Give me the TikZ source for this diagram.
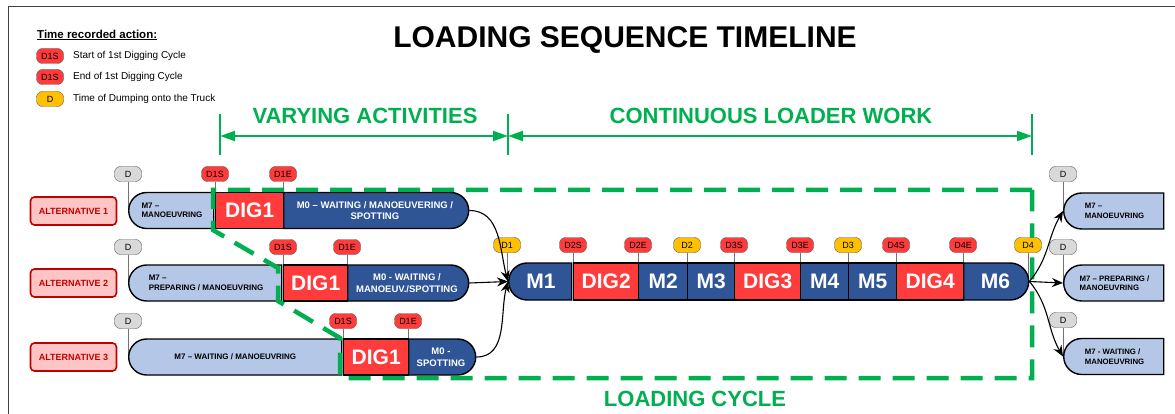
\documentclass[tikz,border=0pt]{standalone}
\usepackage{fontspec}
\setmainfont{Liberation Sans}
\usetikzlibrary{arrows.meta,shapes.misc,backgrounds,positioning}

\definecolor{gr}{HTML}{00B050}
\definecolor{dkblue}{HTML}{2F5597}
\definecolor{ltblue}{HTML}{B4C7E7}
\definecolor{digred}{HTML}{FF3B3B}
\definecolor{altred}{HTML}{C00000}
\definecolor{altpink}{HTML}{FFC4C4}
\definecolor{dumpyel}{HTML}{FFC000}
\definecolor{pingrey}{HTML}{D9D9D9}

\tikzset{
  altbox/.style={rectangle,rounded corners=4pt,draw=altred,fill=altpink,line width=1.6pt,
    minimum width=86pt,minimum height=28pt,text=altred,font=\fontsize{9}{10}\selectfont\bfseries},
  pin/.style={rectangle,rounded corners=6pt,draw=black!65,minimum width=27pt,minimum height=15pt,
    inner sep=1pt,font=\fontsize{9}{10}\selectfont},
  pinD/.style={pin,fill=pingrey},
  pinS/.style={pin,fill=digred},
  pinY/.style={pin,fill=dumpyel},
  seg/.style={rectangle,draw=black,line width=1.4pt,minimum height=36pt,inner sep=1pt,anchor=west},
  wait/.style={seg,fill=ltblue,font=\fontsize{8}{9.5}\selectfont\bfseries,align=left},
  work/.style={seg,fill=dkblue,text=white,font=\fontsize{9.5}{11.5}\selectfont\bfseries,align=center},
  dig/.style={seg,fill=digred,text=white,font=\fontsize{21}{23}\selectfont\bfseries},
  big/.style={work,font=\fontsize{21}{23}\selectfont\bfseries},
  lend/.style={rounded rectangle,rounded rectangle right arc=none},
  rend/.style={rounded rectangle,rounded rectangle left arc=none},
  nextbox/.style={wait,lend,minimum width=102pt,font=\fontsize{7.8}{9.5}\selectfont\bfseries},
  pinline/.style={draw=black!55,line width=0.8pt},
  flow/.style={-{Stealth[length=11pt,width=9pt]},line width=1.1pt},
  dim/.style={{Triangle[length=15pt,width=10pt]}-{Triangle[length=15pt,width=10pt]},draw=gr,fill=gr,line width=2pt},
  tick/.style={draw=gr,line width=2pt},
  loopbox/.style={draw=gr,line width=4.5pt,dash pattern=on 22pt off 12pt,line join=miter},
  head/.style={text=gr,font=\fontsize{22}{24}\selectfont\bfseries},
  keytxt/.style={anchor=west,inner sep=0pt,font=\fontsize{10}{11}\selectfont},
}

\begin{document}
\begin{tikzpicture}[x=1pt,y=-1pt]
\useasboundingbox (0,0) rectangle (1175,414);
\draw[black!75,line width=1pt] (8,414) -- (8,7) -- (1175,7);

% title and key
\node (title) at (625,40) [font=\fontsize{30}{32}\selectfont\bfseries] {LOADING SEQUENCE TIMELINE};
\node (keyhead) at (37,35) [anchor=west,inner sep=0pt,font=\fontsize{11.5}{13}\selectfont\bfseries] {\underline{Time recorded action:}};
\node (key1) at (50,56) [pinS] {D1S};
\node (key1t) at (73,56) [keytxt] {Start of 1st Digging Cycle};
\node (key2) at (50,77) [pinS] {D1S};
\node (key2t) at (73,77) [keytxt] {End of 1st Digging Cycle};
\node (key3) at (50,99) [pinY] {D};
\node (key3t) at (73,99) [keytxt] {Time of Dumping onto the Truck};

% spans
\coordinate (ta) at (220,136);
\coordinate (tb) at (508,136);
\coordinate (tc) at (1032,136);
\draw[tick] ([yshift=22pt]ta) -- ([yshift=-19pt]ta);
\draw[tick] ([yshift=22pt]tb) -- ([yshift=-19pt]tb);
\draw[tick] ([yshift=22pt]tc) -- ([yshift=-19pt]tc);
\draw[dim] (ta) -- (tb);
\draw[dim] (tb) -- (tc);
\node (vary) at (365,116) [head] {VARYING ACTIVITIES};
\node (cont) at (771,116) [head] {CONTINUOUS LOADER WORK};

% alternatives
\node (alt1) at (73.5,211) [altbox] {ALTERNATIVE 1};
\node (alt2) at (73.5,283) [altbox] {ALTERNATIVE 2};
\node (alt3) at (73.5,357) [altbox] {ALTERNATIVE 3};

\node (a1m7) at (128,210.5) [wait,lend,minimum width=87pt] {M7 –\\MANOEUVRING};
\node (a1dig) at (215,210.5) [dig,minimum width=68pt] {DIG1};
\node (a1m0) at (283,210.5) [work,rend,minimum width=187pt] {M0 – WAITING / MANOEUVERING /\\SPOTTING};

\node (a2m7) at (128,283) [wait,lend,minimum width=155pt] {M7 –\\PREPARING / MANOEUVRING};
\node (a2dig) at (283,283) [dig,minimum width=64pt] {DIG1};
\node (a2m0) at (347,283) [work,rend,minimum width=123pt] {M0 - WAITING /\\MANOEUV./SPOTTING};

\node (a3m7) at (128,357) [wait,lend,minimum width=215pt] {M7 – WAITING / MANOEUVRING};
\node (a3dig) at (343,357) [dig,minimum width=65pt] {DIG1};
\node (a3m0) at (408,357) [work,rend,minimum width=69pt] {M0 -\\SPOTTING};

% loading cycle
\node (m1) at (508,281.5) [big,lend,minimum width=65pt,minimum height=37pt] {M1};
\node (dig2) at (573,281.5) [dig,minimum width=65pt,minimum height=37pt] {DIG2};
\node (m2) at (638,281.5) [big,minimum width=49pt,minimum height=37pt] {M2};
\node (m3) at (687,281.5) [big,minimum width=47pt,minimum height=37pt] {M3};
\node (dig3) at (734,281.5) [dig,minimum width=66pt,minimum height=37pt] {DIG3};
\node (m4) at (800,281.5) [big,minimum width=48pt,minimum height=37pt] {M4};
\node (m5) at (848,281.5) [big,minimum width=48pt,minimum height=37pt] {M5};
\node (dig4) at (896,281.5) [dig,minimum width=67pt,minimum height=37pt] {DIG4};
\node (m6) at (963,281.5) [big,rend,minimum width=67pt,minimum height=37pt] {M6};

% next truck
\node (r1) at (1063,211) [nextbox] {M7 –\\MANOEUVRING};
\node (r2) at (1063,283) [nextbox] {M7 – PREPARING /\\MANOEUVRING};
\node (r3) at (1063,356.5) [nextbox] {M7 - WAITING /\\MANOEUVRING};

\draw[loopbox] (1032,190) -- (213,190) -- (213,230) -- (278,268) -- (278,301) -- (340,338)
  -- (340,378) -- (1032,378) -- cycle;
\node (cycle) at (695,399) [head] {LOADING CYCLE};

% time stamps
\node (a1d) at (128,174) [pinD] {D};
\node (a1s) at (215,174) [pinS] {D1S};
\node (a1e) at (283,174) [pinS] {D1E};
\node (a2d) at (128,247) [pinD] {D};
\node (a2s) at (283,247) [pinS] {D1S};
\node (a2e) at (347,247) [pinS] {D1E};
\node (a3d) at (128,321) [pinD] {D};
\node (a3s) at (343,321) [pinS] {D1S};
\node (a3e) at (408,321) [pinS] {D1E};
\node (md1) at (507,245) [pinY] {D1};
\node (md2s) at (573,245) [pinS] {D2S};
\node (md2e) at (638,245) [pinS] {D2E};
\node (md2) at (687,245) [pinY] {D2};
\node (md3s) at (734,245) [pinS] {D3S};
\node (md3e) at (800,245) [pinS] {D3E};
\node (md3) at (848,245) [pinY] {D3};
\node (md4s) at (896,245) [pinS] {D4S};
\node (md4e) at (963,245) [pinS] {D4E};
\node (md4) at (1028,245) [pinY] {D4};
\node (r1d) at (1063,174) [pinD] {D};
\node (r2d) at (1063,247) [pinD] {D};
\node (r3d) at (1063,320) [pinD] {D};

\begin{scope}[on background layer]
\draw[pinline] (a1d) -- (a1d |- a1m7);
\draw[pinline] (a1s) -- (a1s |- a1m7);
\draw[pinline] (a1e) -- (a1e |- a1m7);
\draw[pinline] (a2d) -- (a2d |- a2m7);
\draw[pinline] (a2s) -- (a2s |- a2m7);
\draw[pinline] (a2e) -- (a2e |- a2m7);
\draw[pinline] (a3d) -- (a3d |- a3m7);
\draw[pinline] (a3s) -- (a3s |- a3m7);
\draw[pinline] (a3e) -- (a3e |- a3m7);
\draw[pinline] (md1) -- (md1 |- m1);
\draw[pinline] (md2s) -- (md2s |- m1);
\draw[pinline] (md2e) -- (md2e |- m1);
\draw[pinline] (md2) -- (md2 |- m1);
\draw[pinline] (md3s) -- (md3s |- m1);
\draw[pinline] (md3e) -- (md3e |- m1);
\draw[pinline] (md3) -- (md3 |- m1);
\draw[pinline] (md4s) -- (md4s |- m1);
\draw[pinline] (md4e) -- (md4e |- m1);
\draw[pinline] (md4) -- (md4 |- m1);
\draw[pinline] (r1d) -- (r1d |- r1);
\draw[pinline] (r2d) -- (r2d |- r2);
\draw[pinline] (r3d) -- (r3d |- r3);
\end{scope}

% flows
\draw[flow] (a1m0.east) to[out=0,in=105] (m1.west);
\draw[flow] (a2m0.east) -- (m1.west);
\draw[flow] (a3m0.east) to[out=0,in=-105] (m1.west);
\draw[flow] (m6.east) to[out=50,in=-120] (r1.west);
\draw[flow] (m6.east) -- (r2.west);
\draw[flow] (m6.east) to[out=-50,in=120] (r3.west);

\end{tikzpicture}
\end{document}
